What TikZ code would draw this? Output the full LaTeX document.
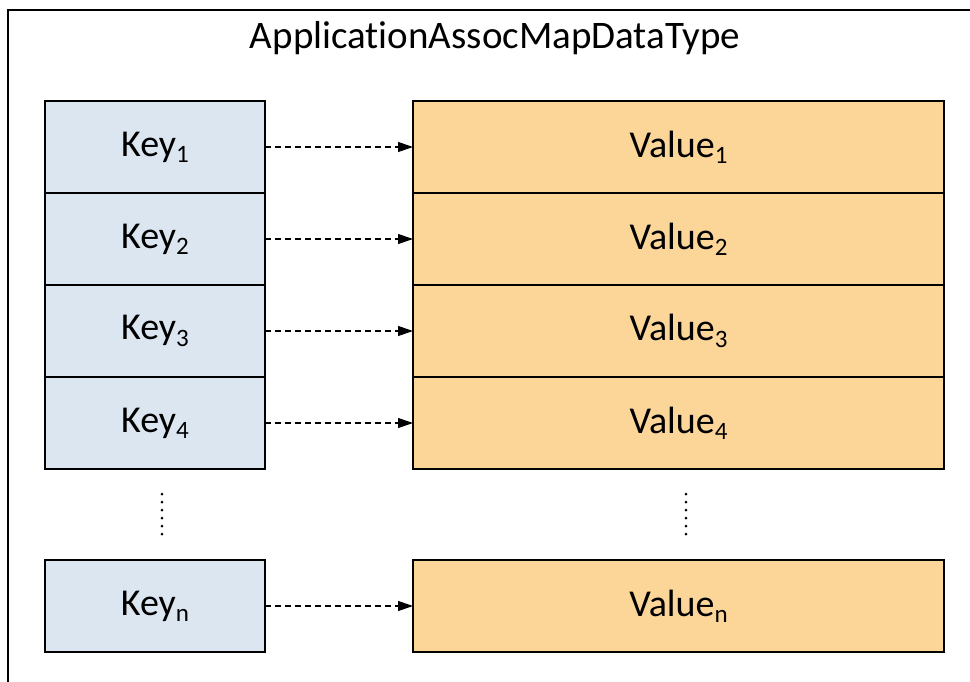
\documentclass[tikz,border=0pt]{standalone}
\usepackage{fontspec}
\setmainfont{Carlito}[Ligatures=NoCommon]
\usetikzlibrary{positioning,arrows.meta}
\definecolor{keyfill}{RGB}{220,230,241}
\definecolor{valfill}{RGB}{252,213,153}
\newcommand{\idx}[1]{\raisebox{-0.35ex}{\fontsize{12.5}{13}\selectfont #1}}

\begin{document}
\begin{tikzpicture}[x=0.5pt,y=-0.5pt,
  keybox/.style={draw,line width=0.75pt,fill=keyfill,minimum width=110pt,minimum height=46pt,inner sep=0pt,outer sep=0pt,font=\fontsize{19}{23}\selectfont},
  valbox/.style={keybox,fill=valfill,minimum width=265.5pt},
  link/.style={line width=0.6pt,dash pattern=on 3pt off 2pt,-{Triangle[length=7.5pt,width=5pt]}},
  dotline/.style={line width=1.5pt,line cap=round,dash pattern=on 0pt off 4pt}]
\useasboundingbox (0,0) rectangle (970,681);
\draw[line width=1pt] (8,700) -- (8,10) -- (990,10);
\node[font=\fontsize{19.5}{23}\selectfont,anchor=base] (title) at (495,48) {ApplicationAssocMapDataType};

% keys
\node[keybox] (k1) at (155,147) {Key\idx{1}};
\node[keybox,below=0pt of k1] (k2) {Key\idx{2}};
\node[keybox,below=0pt of k2] (k3) {Key\idx{3}};
\node[keybox,below=0pt of k3] (k4) {Key\idx{4}};
\node[keybox] (kn) at (155,606) {Key\idx{n}};

% values
\node[valbox] (v1) at (678.5,147) {Value\idx{1}};
\node[valbox,below=0pt of v1] (v2) {Value\idx{2}};
\node[valbox,below=0pt of v2] (v3) {Value\idx{3}};
\node[valbox,below=0pt of v3] (v4) {Value\idx{4}};
\node[valbox] (vn) at (678.5,606) {Value\idx{n}};

\foreach \i in {1,2,3,4,n}
  \draw[link] (k\i.east) -- (v\i.west);

\draw[dotline] ([xshift=3.5pt,yshift=-12.5pt]k4.south) -- ([xshift=3.5pt,yshift=12.5pt]kn.north);
\draw[dotline] ([xshift=3.75pt,yshift=-12.5pt]v4.south) -- ([xshift=3.75pt,yshift=12.5pt]vn.north);
\end{tikzpicture}
\end{document}
